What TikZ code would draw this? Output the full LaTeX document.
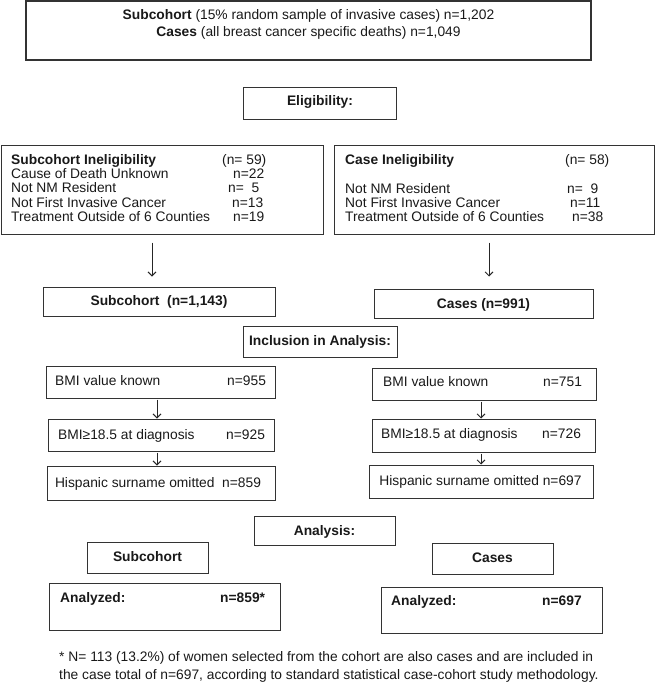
\documentclass[tikz,border=0pt]{standalone}
\usepackage{fontspec}
\setmainfont{Liberation Sans}
\usetikzlibrary{fit,arrows.meta}
\begin{document}
\begin{tikzpicture}[x=1pt,y=-1pt,
  bx/.style={draw=black!80, line width=1pt, inner sep=0pt},
  txt/.style={font=\fontsize{13.8}{14}\selectfont, inner sep=0pt, text height=9.9pt, text depth=0pt, text=black!90},
  btxt/.style={txt, font=\fontsize{13.8}{14}\selectfont\bfseries},
  arr/.style={draw=black!85, line width=0.9pt, -{Straight Barb[length=4pt,width=8pt]}}
]
\useasboundingbox (0,0) rectangle (656,685);
% boxes
\node[bx, line width=1.4pt, fit={(26,1) (591,60)}] (top) {};
\node[bx, fit={(243.5,87) (396.5,119)}] (elig) {};
\node[bx, fit={(1,145) (323,234)}] (inL) {};
\node[bx, fit={(334,145) (654,234)}] (inR) {};
\node[bx, fit={(43,287) (275,316)}] (subL) {};
\node[bx, fit={(374,289) (593,318)}] (casR) {};
\node[bx, fit={(243,326) (397,357)}] (incl) {};
\node[bx, fit={(46,366) (275,398)}] (b1) {};
\node[bx, fit={(48,419) (274,451)}] (b2) {};
\node[bx, fit={(47,466) (275,500)}] (b3) {};
\node[bx, fit={(372,368) (596,400)}] (c1) {};
\node[bx, fit={(372,419) (595,452)}] (c2) {};
\node[bx, fit={(369,465) (593,498)}] (c3) {};
\node[bx, fit={(254,516) (395,545)}] (anl) {};
\node[bx, fit={(87,542) (208,573)}] (subA) {};
\node[bx, fit={(432,543) (553,574)}] (casA) {};
\node[bx, fit={(49,583) (280,630)}] (azL) {};
\node[bx, fit={(381,587) (602,633)}] (azR) {};
% texts: top
\node[txt] (t1) at (308.5,15) {\textbf{Subcohort} (15\% random sample of invasive cases) n=1,202};
\node[txt] (t2) at (308.5,32) {\textbf{Cases} (all breast cancer specific deaths) n=1,049};
\node[btxt] (t3) at (320,101) {Eligibility:};
% subcohort ineligibility
\node[btxt, anchor=west] (l1) at (11,160) {Subcohort Ineligibility};
\node[txt, anchor=west] (l2) at (11,174) {Cause of Death Unknown};
\node[txt, anchor=west] (l3) at (11,188) {Not NM Resident};
\node[txt, anchor=west] (l4) at (11,202.5) {Not First Invasive Cancer};
\node[txt, anchor=west] (l5) at (11,217) {Treatment Outside of 6 Counties};
\node[txt, anchor=west] (n1) at (222,160) {(n= 59)};
\node[txt, anchor=west] (n2) at (233,174) {n=22};
\node[txt, anchor=west] (n3) at (228,188) {n=\hspace{0.55em}5};
\node[txt, anchor=west] (n4) at (232,202.5) {n=13};
\node[txt, anchor=west] (n5) at (233,217) {n=19};
% case ineligibility
\node[btxt, anchor=west] (r1) at (345,160) {Case Ineligibility};
\node[txt, anchor=west] (r3) at (345,189) {Not NM Resident};
\node[txt, anchor=west] (r4) at (345,203) {Not First Invasive Cancer};
\node[txt, anchor=west] (r5) at (345,217) {Treatment Outside of 6 Counties};
\node[txt, anchor=west] (m1) at (565,160) {(n= 58)};
\node[txt, anchor=west] (m3) at (567,189) {n=\hspace{0.55em}9};
\node[txt, anchor=west] (m4) at (570,203) {n=11};
\node[txt, anchor=west] (m5) at (572,217) {n=38};
% subcohort / cases
\node[btxt] (s1) at (159,301) {Subcohort\ \ (n=1,143)};
\node[btxt] (s2) at (483.5,303.5) {Cases (n=991)};
\node[btxt] (s3) at (320,341) {Inclusion in Analysis:};
% BMI left
\node[txt, anchor=west] (bl1) at (55,381) {BMI value known};
\node[txt, anchor=west] (bn1) at (227,381) {n=955};
\node[txt, anchor=west] (bl2) at (58,435) {BMI≥18.5 at diagnosis};
\node[txt, anchor=west] (bn2) at (226,435) {n=925};
\node[txt] (bl3) at (158,483) {Hispanic surname omitted\ \ n=859};
% BMI right
\node[txt, anchor=west] (cl1) at (383,382) {BMI value known};
\node[txt, anchor=west] (cn1) at (543,382) {n=751};
\node[txt, anchor=west] (cl2) at (381,434) {BMI≥18.5 at diagnosis};
\node[txt, anchor=west] (cn2) at (542,434) {n=726};
\node[txt] (cl3) at (480.5,481) {Hispanic surname omitted n=697};
% analysis
\node[btxt] (a1) at (324.5,531) {Analysis:};
\node[btxt] (a2) at (147.5,557) {Subcohort};
\node[btxt] (a3) at (492.5,558) {Cases};
\node[btxt, anchor=west] (a4) at (60,598) {Analyzed:};
\node[btxt, anchor=west] (a5) at (220,598) {n=859*};
\node[btxt, anchor=west] (a6) at (391,601) {Analyzed:};
\node[btxt, anchor=west] (a7) at (542,601) {n=697};
% footnote
\node[txt, anchor=west] (f1) at (59,657) {* N= 113 (13.2\%) of women selected from the cohort are also cases and are included in};
\node[txt, anchor=west] (f2) at (59,675) {the case total of n=697, according to standard statistical case-cohort study methodology.};
% arrows
\coordinate (xL) at (152,0);
\coordinate (xR) at (489,0);
\coordinate (xl) at (157,0);
\coordinate (xr) at (481,0);
\draw[arr, shorten <=8pt, shorten >=10pt] (inL.south -| xL) -- (subL.north -| xL);
\draw[arr, shorten <=8pt, shorten >=12pt] (inR.south -| xR) -- (casR.north -| xR);
\draw[arr, shorten <=1pt] (b1.south -| xl) -- (b2.north -| xl);
\draw[arr, shorten <=1pt] (b2.south -| xl) -- (b3.north -| xl);
\draw[arr, shorten <=1pt] (c1.south -| xr) -- (c2.north -| xr);
\draw[arr, shorten <=1pt] (c2.south -| xr) -- (c3.north -| xr);
\end{tikzpicture}
\end{document}
